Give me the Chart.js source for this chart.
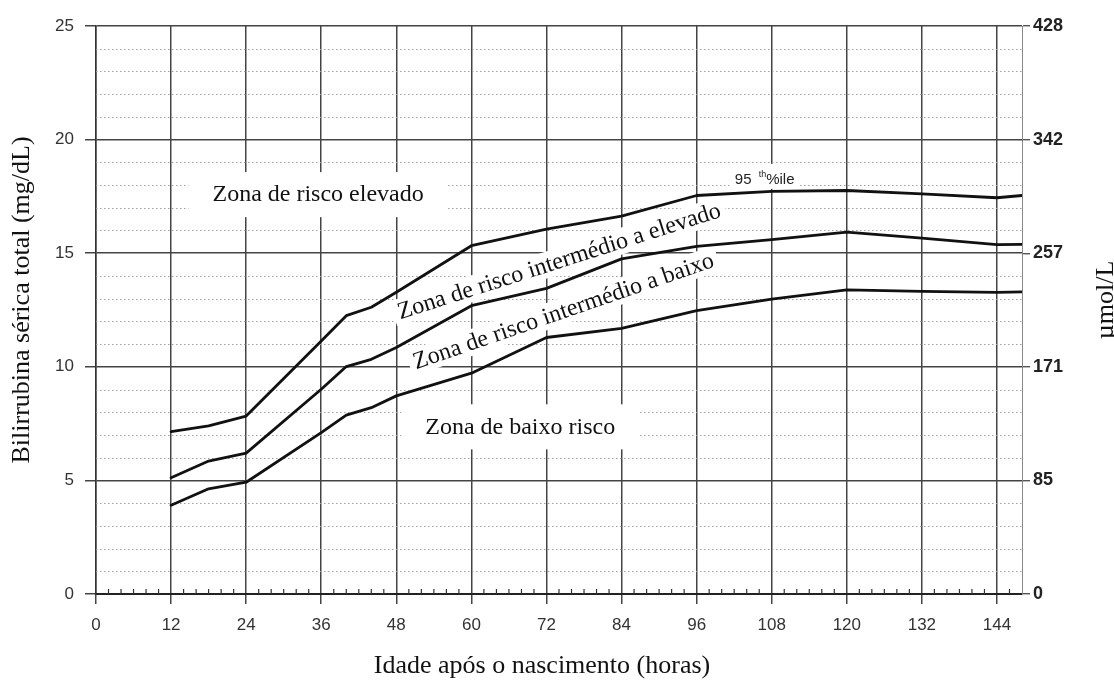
<!DOCTYPE html>
<html lang="pt">
<head>
<meta charset="utf-8">
<title>Nomograma de bilirrubina</title>
<script src="https://cdn.jsdelivr.net/npm/chart.js@4.4.1/dist/chart.umd.min.js"></script>
<style>
  html, body { margin: 0; padding: 0; background: #fff; }
  #wrap { width: 1114px; height: 680px; }
</style>
</head>
<body>
<div id="wrap"><canvas id="nomogram" width="1114" height="680"></canvas></div>
<script>
// Hours after birth at which the percentile curves are read
const hours = [12, 18, 24, 36, 40, 44, 48, 60, 72, 84, 96, 108, 120, 132, 144, 148];

// Total serum bilirubin (mg/dL) for each percentile curve
const p95 = [7.15, 7.4, 7.83, 11.14, 12.25, 12.62, 13.28, 15.33, 16.06, 16.63, 17.54, 17.72, 17.76, 17.61, 17.44, 17.54];
const p75 = [5.12, 5.85, 6.2, 9.01, 10.01, 10.33, 10.85, 12.69, 13.45, 14.75, 15.3, 15.6, 15.93, 15.66, 15.38, 15.39];
const p40 = [3.91, 4.63, 4.92, 7.1, 7.87, 8.2, 8.72, 9.72, 11.29, 11.69, 12.47, 12.98, 13.39, 13.32, 13.28, 13.3];

// Right-hand scale labels (µmol/L) matching 0, 5, 10 ... 25 mg/dL
const umolLabels = ['0', '85', '171', '257', '342', '428'];

// Zone names written across the chart
const zoneNames = [
  'Zona de risco elevado',
  'Zona de risco intermédio a elevado',
  'Zona de risco intermédio a baixo',
  'Zona de baixo risco'
];

const serif = "'Liberation Serif', 'Times New Roman', serif";
const sans = "'Liberation Sans', Arial, sans-serif";

// Where the zone names sit (hour, mg/dL) and how they are tilted
const zoneLayout = [
  { hour: 35.5, level: 17.6, angle: 0, boxed: true },
  { hour: 74.0, level: 14.66, angle: -17.7, boxed: false },
  { hour: 74.7, level: 12.46, angle: -19, boxed: false },
  { hour: 67.8, level: 7.38, angle: 0, boxed: true }
];
const p95Tag = { hour: 102.1, level: 18.05 };

const toPoints = (values) => values.map((v, i) => ({ x: hours[i], y: v }));

const curveStyle = {
  borderColor: '#111',
  borderWidth: 2.8,
  borderJoinStyle: 'round',
  borderCapStyle: 'round',
  pointRadius: 0,
  tension: 0,
  fill: false,
  yAxisID: 'y'
};

// Dotted 1 mg/dL lines and the small 2-hour marks on the time axis
const paperGrid = {
  id: 'paperGrid',
  beforeDatasetsDraw(chart) {
    const { ctx, chartArea: a, scales: { x, y } } = chart;
    ctx.save();
    ctx.strokeStyle = '#a0a0a0';
    ctx.lineWidth = 1;
    ctx.setLineDash([1.5, 2.5]);
    for (let v = y.min + 1; v < y.max; v++) {
      if (v % 5 === 0) continue;
      const py = Math.round(y.getPixelForValue(v)) + 0.5;
      ctx.beginPath();
      ctx.moveTo(a.left, py);
      ctx.lineTo(a.right, py);
      ctx.stroke();
    }
    ctx.setLineDash([]);
    ctx.strokeStyle = '#333';
    ctx.lineWidth = 1.2;
    for (let h = 2; h < x.max; h += 2) {
      if (h % 12 === 0) continue;
      const px = x.getPixelForValue(h);
      ctx.beginPath();
      ctx.moveTo(px, a.bottom);
      ctx.lineTo(px, a.bottom - 5);
      ctx.stroke();
    }
    ctx.restore();
  }
};

// Zone names on white patches, plus the 95th percentile tag
const zoneLabels = {
  id: 'zoneLabels',
  beforeDatasetsDraw(chart) {
    const { ctx, scales: { x, y } } = chart;
    ctx.save();
    ctx.font = `24px ${serif}`;
    ctx.textAlign = 'center';
    ctx.textBaseline = 'middle';
    zoneLayout.forEach((z, i) => {
      const text = zoneNames[i];
      const w = ctx.measureText(text).width;
      ctx.save();
      ctx.translate(x.getPixelForValue(z.hour), y.getPixelForValue(z.level));
      ctx.rotate(z.angle * Math.PI / 180);
      ctx.fillStyle = '#fff';
      if (z.boxed) {
        ctx.fillRect(-w / 2 - 24, -22, w + 48, 45);
      } else {
        ctx.fillRect(-w / 2 - 5, -13, w + 10, 26);
      }
      ctx.fillStyle = '#111';
      ctx.fillText(text, 0, 1);
      ctx.restore();
    });

    const tx = x.getPixelForValue(p95Tag.hour);
    const ty = y.getPixelForValue(p95Tag.level);
    ctx.fillStyle = '#fff';
    ctx.fillRect(tx - 4, ty - 20, 69, 25);
    ctx.fillStyle = '#222';
    ctx.textAlign = 'left';
    ctx.textBaseline = 'alphabetic';
    ctx.font = `15px ${sans}`;
    ctx.fillText('95', tx, ty);
    const w95 = ctx.measureText('95 ').width;
    ctx.font = `9px ${sans}`;
    ctx.fillText('th', tx + w95 + 3, ty - 7);
    const wth = ctx.measureText('th').width;
    ctx.font = `15px ${sans}`;
    ctx.fillText('%ile', tx + w95 + 3 + wth, ty);
    ctx.restore();
  }
};

// Axis titles in serif type; both vertical ones read bottom to top
const axisTitles = {
  id: 'axisTitles',
  afterDraw(chart) {
    const { ctx, chartArea: a } = chart;
    const midY = (a.top + a.bottom) / 2 - 10;
    ctx.save();
    ctx.fillStyle = '#111';
    ctx.font = `26px ${serif}`;
    ctx.textAlign = 'center';
    ctx.textBaseline = 'middle';
    ctx.fillText('Idade após o nascimento (horas)', (a.left + a.right) / 2 - 17, chart.height - 14);
    ctx.save();
    ctx.translate(22, midY);
    ctx.rotate(-Math.PI / 2);
    ctx.fillText('Bilirrubina sérica total (mg/dL)', 0, 0);
    ctx.restore();
    ctx.save();
    ctx.translate(chart.width - 8, midY);
    ctx.rotate(-Math.PI / 2);
    ctx.fillText('µmol/L', 0, 0);
    ctx.restore();
    ctx.restore();
  }
};

const ctx = document.getElementById('nomogram').getContext('2d');

new Chart(ctx, {
  type: 'line',
  data: {
    datasets: [
      { label: 'P95', data: toPoints(p95), ...curveStyle },
      { label: 'P75', data: toPoints(p75), ...curveStyle },
      { label: 'P40', data: toPoints(p40), ...curveStyle }
    ]
  },
  options: {
    responsive: false,
    animation: false,
    layout: { padding: { top: 26, left: 0, right: 0, bottom: 0 } },
    plugins: {
      legend: { display: false },
      tooltip: { enabled: false }
    },
    scales: {
      x: {
        type: 'linear',
        min: 0,
        max: 148,
        ticks: {
          stepSize: 12,
          includeBounds: false,
          padding: 11,
          color: '#333',
          font: { family: sans, size: 17 }
        },
        grid: { color: '#444', lineWidth: 1.5, tickLength: 10 },
        border: { color: '#222', width: 2 },
        afterFit: (scale) => { scale.height = 86; }
      },
      y: {
        position: 'left',
        min: 0,
        max: 25,
        ticks: {
          stepSize: 5,
          padding: 11,
          color: '#333',
          font: { family: sans, size: 17 }
        },
        grid: { color: '#444', lineWidth: 1.5, tickLength: 11 },
        border: { color: '#333', width: 1.5 },
        afterFit: (scale) => { scale.width = 96; }
      },
      y2: {
        position: 'right',
        min: 0,
        max: 25,
        ticks: {
          stepSize: 5,
          padding: 3,
          color: '#222',
          font: { family: sans, size: 18, weight: 'bold' },
          callback: (value, index) => umolLabels[index]
        },
        grid: { drawOnChartArea: false, color: '#555', lineWidth: 1.4, tickLength: 8 },
        border: { color: '#888', width: 1 },
        afterFit: (scale) => { scale.width = 92; }
      }
    }
  },
  plugins: [paperGrid, zoneLabels, axisTitles]
});
</script>
</body>
</html>
